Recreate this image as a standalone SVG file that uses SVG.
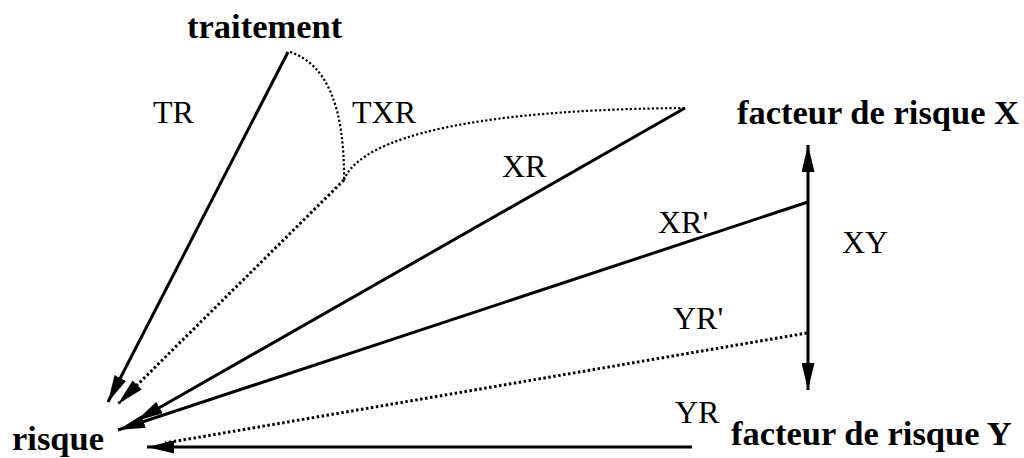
<svg xmlns="http://www.w3.org/2000/svg" width="1024" height="458" viewBox="0 0 1024 458">
<style>
.b{font-family:"Liberation Serif","Times New Roman",serif;font-weight:bold;font-size:34.5px;fill:#000}
.r{font-family:"Liberation Serif","Times New Roman",serif;font-size:32px;fill:#000}
.s{fill:none;stroke:#000;stroke-width:3}
.d{fill:none;stroke:#000;stroke-width:3;stroke-dasharray:2.5 2.5}
.c{fill:none;stroke:#000;stroke-width:2.2;stroke-dasharray:2.2 2.2}
</style>
<defs>
<marker id="a" markerUnits="userSpaceOnUse" markerWidth="28" markerHeight="13" refX="27" refY="6.5" orient="auto">
<path d="M0,0 L27,6.5 L0,13 z" fill="#000"/>
</marker>
<marker id="as" markerUnits="userSpaceOnUse" markerWidth="28" markerHeight="13" refX="0" refY="6.5" orient="auto">
<path d="M27,0 L0,6.5 L27,13 z" fill="#000"/>
</marker>
</defs>
<rect width="1024" height="458" fill="#fff"/>
<g id="traitement"><text class="b" x="187" y="38">traitement</text></g>
<g id="facteurX"><text class="b" x="737" y="124">facteur de risque X</text></g>
<g id="facteurY"><text class="b" x="731" y="445">facteur de risque Y</text></g>
<g id="risque"><text class="b" x="12" y="450">risque</text></g>
<g id="connectors">
<line class="s" x1="288" y1="52" x2="108" y2="402" marker-end="url(#a)"/>
<path class="c" d="M290,52 Q345,70 344,180"/>
<path class="c" d="M344,180 C356,148 430,110 685,108"/>
<line class="d" x1="344" y1="180" x2="118" y2="404" marker-end="url(#a)"/>
<line class="s" x1="685" y1="108" x2="136" y2="421" marker-end="url(#a)"/>
<line class="s" x1="808" y1="202" x2="118" y2="430" marker-end="url(#a)"/>
<line class="d" x1="807" y1="333" x2="165" y2="443"/>
<line class="s" x1="692" y1="447" x2="147" y2="447" marker-end="url(#a)"/>
<line class="s" x1="808" y1="145" x2="808" y2="390" marker-start="url(#as)" marker-end="url(#a)"/>
</g>
<g id="labels">
<text class="r" x="153" y="123">TR</text>
<text class="r" x="352" y="123">TXR</text>
<text class="r" x="502" y="177">XR</text>
<text class="r" x="658" y="233">XR'</text>
<text class="r" x="842" y="253">XY</text>
<text class="r" x="673" y="329">YR'</text>
<text class="r" x="675" y="423">YR</text>
</g>
</svg>
